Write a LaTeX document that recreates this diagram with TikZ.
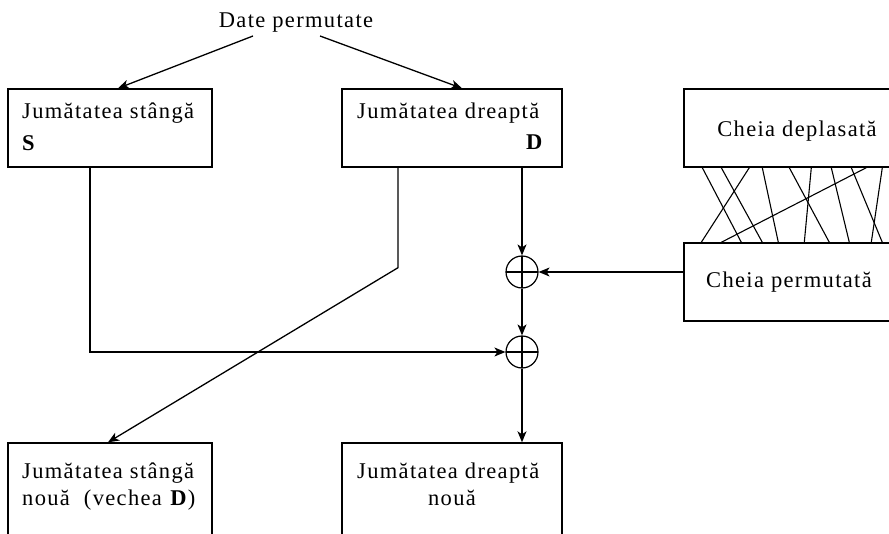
\documentclass[tikz,border=0pt]{standalone}
\usepackage{fontspec}
\setmainfont{Liberation Serif}[LetterSpace=6]
\usetikzlibrary{arrows.meta}
\begin{document}
\begin{tikzpicture}[x=1pt,y=-1pt,
  font=\fontsize{22.5}{26}\selectfont,
  box/.style={draw, line width=1.4pt, rectangle, inner sep=0pt},
  lbl/.style={inner sep=0pt},
  conn/.style={line width=1.3pt},
  arr/.style={conn, -{Stealth[length=11pt,width=9pt,inset=3pt]}},
  xorop/.style={draw, circle, line width=1.2pt, minimum size=32pt, inner sep=0pt,
    path picture={
      \draw[line width=1.2pt] (path picture bounding box.north) -- (path picture bounding box.south)
        (path picture bounding box.west) -- (path picture bounding box.east);}}
]
\useasboundingbox (0,0) rectangle (889,534);
\clip (0,0) rectangle (889,534);

% input label
\node[lbl, anchor=base] (title) at (296,28) {Date permutate};

% upper halves
\node[box, minimum width=204pt, minimum height=78pt] (LS) at (110,128) {};
\node[lbl, anchor=base west] (LSt) at (22,119) {Jumătatea stângă};
\node[lbl, anchor=base west] (LSs) at (22,151) {\textbf{S}};

\node[box, minimum width=220pt, minimum height=78pt] (RS) at (452,128) {};
\node[lbl, anchor=base west] (RSt) at (357,119) {Jumătatea dreaptă};
\node[lbl, anchor=base east] (RSs) at (544,150) {\textbf{D}};

% key boxes
\node[box, minimum width=216pt, minimum height=78pt] (KD) at (792,128) {};
\node[lbl, anchor=base] (KDt) at (797,137) {Cheia deplasată};
\node[box, minimum width=216pt, minimum height=78pt] (KP) at (792,282) {};
\node[lbl, anchor=base] (KPt) at (789,288) {Cheia permutată};

% xor operators
\node[xorop] (X1) at (522,272) {};
\node[xorop] (X2) at (522,352) {};

% new halves
\node[box, minimum width=204pt, minimum height=110pt] (LSN) at (110,498) {};
\node[lbl, anchor=base west] (LSNt) at (22,478) {Jumătatea stângă};
\node[lbl, anchor=base west] (LSNs) at (22,505) {nouă\ \ (vechea \textbf{D})};

\node[box, minimum width=220pt, minimum height=110pt] (RSN) at (452,498) {};
\node[lbl, anchor=base west] (RSNt) at (357,478) {Jumătatea dreaptă};
\node[lbl, anchor=base] (RSNs) at (452,505) {nouă};

% split of the input
\draw[arr] ([shift={(-43,8)}]title.base) -- ([xshift=8pt]LS.north);
\draw[arr] ([shift={(24,8)}]title.base) -- ([xshift=10pt]RS.north);

% key shifting: crossing wires
\foreach \a/\b in {19/58, 38/79, 66/18, 79/95, 106/146, 128/121, 148/166, 168/199, 183/38, 199/188}
  \draw[conn, line width=1.1pt] ([xshift=\a pt]KD.south west) -- ([xshift=\b pt]KP.north west);

% round data flow
\draw[arr] (RS.south -| X1) -- (X1.north);
\draw[arr] (KP.west |- X1) -- (X1.east);
\draw[arr] (X1.south) -- (X2.north);
\draw[arr] ([xshift=-20pt]LS.south) |- (X2.west);
\draw[arr] ([xshift=-54pt]RS.south) -- ++(0,100) -- ([xshift=-2pt]LSN.north);
\draw[arr] (X2.south) -- (X2.south |- RSN.north);
\end{tikzpicture}
\end{document}
